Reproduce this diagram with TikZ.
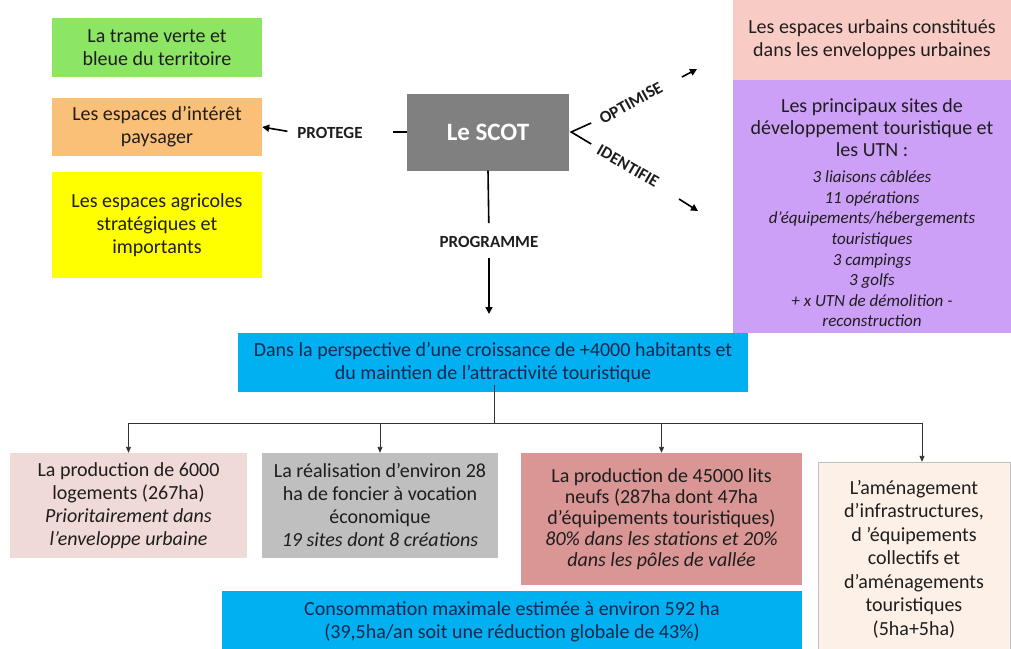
\documentclass[tikz,border=0pt]{standalone}
\usepackage{fontspec}
\setmainfont{Carlito}
\usetikzlibrary{arrows.meta}

\definecolor{vert}{RGB}{140,230,100}
\definecolor{orangepays}{RGB}{250,192,120}
\definecolor{jaune}{RGB}{255,255,0}
\definecolor{scotgray}{RGB}{128,128,128}
\definecolor{rose}{RGB}{248,204,196}
\definecolor{violet}{RGB}{205,160,248}
\definecolor{bleu}{RGB}{0,176,240}
\definecolor{roseclair}{RGB}{240,218,216}
\definecolor{grisclair}{RGB}{191,191,191}
\definecolor{rouge}{RGB}{217,150,148}
\definecolor{creme}{RGB}{253,240,230}
\definecolor{navy}{RGB}{22,40,78}
\definecolor{txtdark}{RGB}{30,30,30}
\definecolor{linegray}{RGB}{50,50,50}

\begin{document}
\begin{tikzpicture}[x=1pt,y=-1pt,
    box/.style={align=center, inner sep=2pt, text=txtdark,
      font=\fontsize{20}{23}\selectfont},
    verb/.style={inner sep=0pt, text=txtdark,
      font=\bfseries\fontsize{17}{20}\selectfont},
    bigarr/.style={-{Triangle[length=7pt,width=7pt]}, line width=1.6pt},
    arr/.style={-{Triangle[length=6pt,width=5pt]}, line width=0.9pt, draw=linegray},
    conn/.style={line width=0.9pt, draw=linegray}]

      \useasboundingbox (0,0) rectangle (1011,648);

      % Left column
      \node[box, fill=vert, minimum width=210pt, minimum height=59pt]
        (trame) at (157,47.5) {La trame verte et\\bleue du territoire};
      \node[box, fill=orangepays, minimum width=210pt, minimum height=58pt]
        (paysage) at (157,127) {Les espaces d’intérêt\\paysager};
      \node[box, fill=jaune, minimum width=210pt, minimum height=106pt]
        (agricole) at (157,225) {Les espaces agricoles\\stratégiques et\\importants};

      % Le SCOT
      \node[fill=scotgray, minimum width=162pt, minimum height=77pt, text=white,
        font=\bfseries\fontsize{25}{28}\selectfont] (scot) at (488,132) {Le SCOT};

      % Protege
      \node[verb] (protege) at (330,133) {PROTEGE};
      \draw[line width=1.6pt] (scot.west) -- ++(-14,0);
      \draw[bigarr, shorten <=10pt] (protege.west) -- (paysage.east);

      % Optimise / identifie
      \coordinate (fork) at ([xshift=2pt]scot.east);
      \draw[line width=1.6pt] ([shift={(20,-9)}]fork) -- (fork) -- ([shift={(20,12)}]fork);
      \node[verb, rotate=29] (optimise) at (631,103) {OPTIMISE};
      \node[verb, rotate=-30] (identifie) at (628,166) {IDENTIFIE};
      \coordinate (opt-a) at (682,77);
      \coordinate (opt-b) at (697,69);
      \draw[bigarr] (opt-a) -- (opt-b);
      \coordinate (ide-a) at (679,199);
      \coordinate (ide-b) at (698,211);
      \draw[bigarr] (ide-a) -- (ide-b);

      % Right column
      \node[box, fill=rose, minimum width=278pt, minimum height=80pt]
        (urbain) at (872,40) {Les espaces urbains constitués\\dans les enveloppes urbaines};
      \node[fill=violet, minimum width=278pt, minimum height=253pt] (sites) at (872,206.5) {};
      \node[box, font=\fontsize{20}{22}\selectfont] (sites-titre) at (872,128)
        {Les principaux sites de\\développement touristique et\\les UTN :};
      \node[box, font=\itshape\fontsize{17}{20.6}\selectfont] (sites-liste) at (872,249)
        {3 liaisons câblées\\11 opérations\\d’équipements/hébergements\\touristiques\\
         3 campings\\3 golfs\\+ x UTN de démolition -\\reconstruction};

      % Programme
      \node[verb] (programme) at (489,242) {PROGRAMME};
      \coordinate (prog-end) at (489,314);
      \draw[line width=1.6pt, shorten >=13pt] (scot.south) -- (programme.north);
      \draw[bigarr, shorten <=10pt] (programme.south) -- (prog-end);

      % Perspective
      \node[box, fill=bleu, text=navy, minimum width=510pt, minimum height=59pt]
        (perspective) at (493,362.5)
        {Dans la perspective d’une croissance de +4000 habitants et\\du maintien de l'attractivité touristique};

      % Bottom row
      \node[box, fill=roseclair, minimum width=237pt, minimum height=105pt]
        (logements) at (128.5,505.5)
        {La production de 6000\\logements (267ha)\\\textit{Prioritairement dans}\\\textit{l’enveloppe urbaine}};
      \node[box, fill=grisclair, minimum width=236pt, minimum height=105pt]
        (foncier) at (380,505.5)
        {La réalisation d’environ 28\\ha de foncier à vocation\\économique\\\textit{19 sites dont 8 créations}};
      \node[box, fill=rouge, minimum width=281pt, minimum height=132pt,
        font=\fontsize{20}{21}\selectfont] (lits) at (661.5,519)
        {La production de 45000 lits\\neufs (287ha dont 47ha\\d’équipements touristiques)\\
         \textit{80\% dans les stations et 20\%}\\\textit{dans les pôles de vallée}};
      \node[box, fill=creme, draw=grisclair, minimum width=192pt, minimum height=194pt,
        font=\fontsize{20}{23.5}\selectfont] (amenagement) at (914,559)
        {L’aménagement\\d’infrastructures,\\d ’équipements\\collectifs et\\d’aménagements\\touristiques\\(5ha+5ha)};
      \node[box, fill=bleu, text=navy, minimum width=580pt, minimum height=61pt]
        (consommation) at (512,621.5)
        {Consommation maximale estimée à environ 592 ha\\(39,5ha/an soit une réduction globale de 43\%)};

      % Connectors
      \coordinate (split) at (494,423);
      \coordinate (amen-in) at ([xshift=8pt]amenagement.north);
      \draw[conn] ([yshift=7pt]perspective.south -| split) -- (split);
      \draw[conn] (logements.north |- split) -- (amen-in |- split);
      \foreach \n in {logements,foncier,lits}
        \draw[arr] (\n.north |- split) -- (\n.north);
      \draw[arr] (amen-in |- split) -- (amen-in);
    \end{tikzpicture}
\end{document}
